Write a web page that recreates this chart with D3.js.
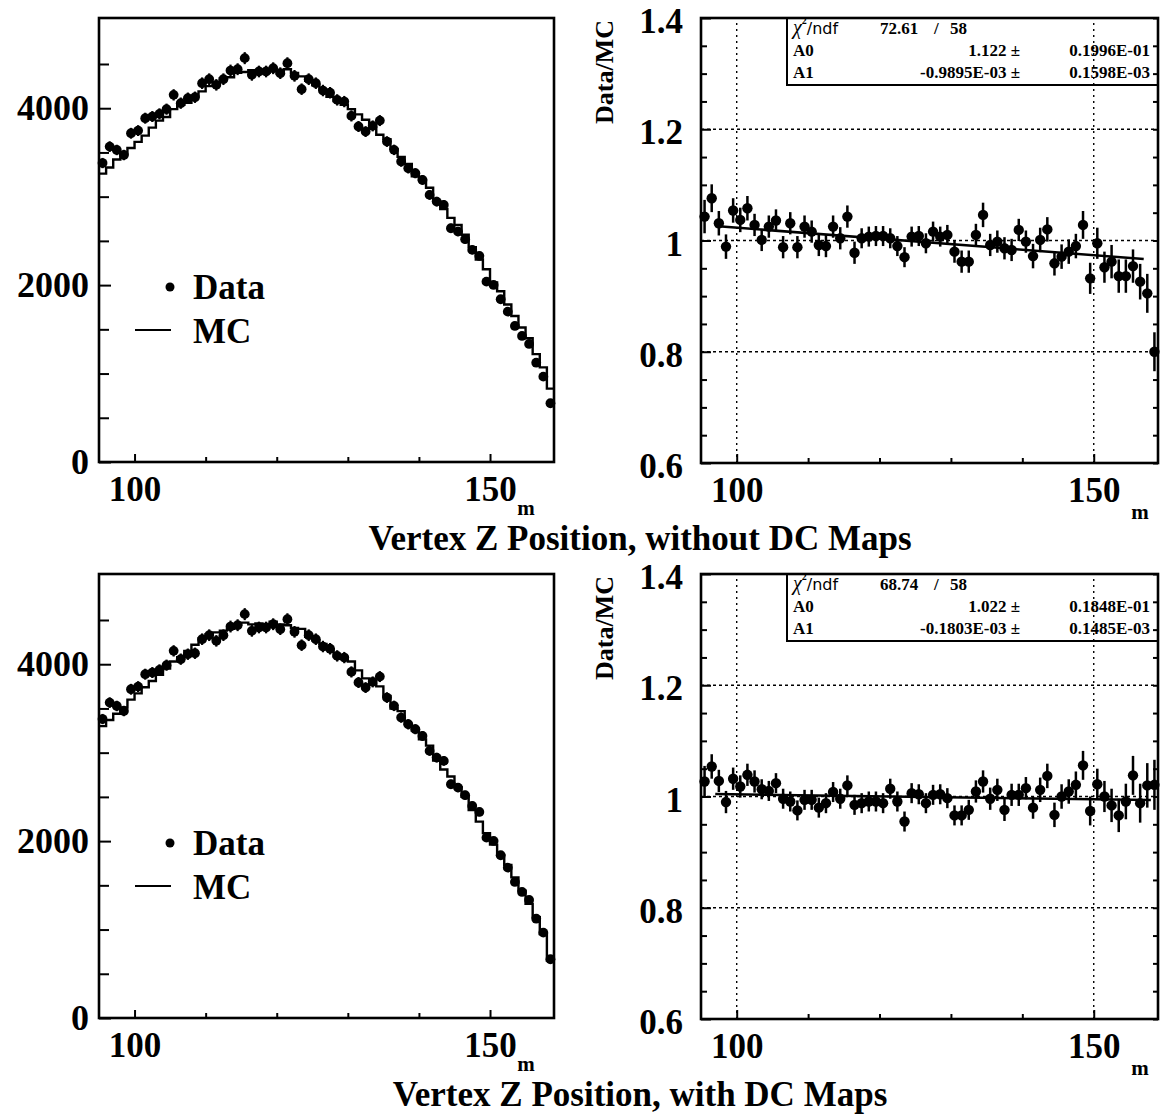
<!DOCTYPE html>
<html><head><meta charset="utf-8">
<script src="https://cdn.jsdelivr.net/npm/d3@7"></script>
<style>
html,body{margin:0;padding:0;background:#fff;}
svg{display:block;}
</style></head><body>
<svg id="c" width="1162" height="1114"></svg>
<script>
// ---------------- data ----------------
const binCenters = [95.5,96.5,97.5,98.5,99.5,100.5,101.5,102.5,103.5,104.5,105.5,106.5,107.5,108.5,109.5,110.5,111.5,112.5,113.5,114.5,115.5,116.5,117.5,118.5,119.5,120.5,121.5,122.5,123.5,124.5,125.5,126.5,127.5,128.5,129.5,130.5,131.5,132.5,133.5,134.5,135.5,136.5,137.5,138.5,139.5,140.5,141.5,142.5,143.5,144.5,145.5,146.5,147.5,148.5,149.5,150.5,151.5,152.5,153.5,154.5,155.5,156.5,157.5,158.5];

const dataCounts = [3380,3566,3528,3471,3717,3747,3887,3906,3936,3989,
  4151,4057,4113,4124,4283,4328,4264,4328,4426,4441,
  4566,4377,4415,4415,4452,4396,4509,4366,4215,4328,
  4283,4200,4175,4094,4075,3913,3793,3736,3800,3860,
  3623,3529,3397,3321,3265,3189,3020,2944,2907,2643,
  2605,2519,2398,2330,2039,2002,1840,1700,1538,1425,
  1335,1123,965,664];

const dataErr = [58,60,59,59,61,61,62,62,63,63,64,64,64,64,65,66,65,66,67,67,
  68,66,66,66,67,66,67,66,65,66,65,65,65,64,64,63,62,61,62,62,
  60,59,58,58,57,56,55,54,54,51,51,50,49,48,45,45,43,41,39,38,
  37,34,31,26];

const mcWithout = [3260,3330,3420,3480,3550,3620,3690,3780,3860,3900,
  3990,4040,4060,4140,4190,4250,4290,4340,4350,4400,
  4410,4430,4400,4400,4420,4390,4440,4400,4360,4310,
  4260,4210,4130,4080,4040,3990,3930,3870,3780,3700,
  3650,3540,3450,3370,3230,3190,3100,2950,2860,2760,
  2680,2570,2430,2290,2180,2030,1930,1780,1650,1520,
  1400,1220,1070,830];

const mcWith = [3300,3370,3440,3510,3600,3670,3740,3810,3880,3950,
  4030,4080,4150,4220,4290,4340,4360,4380,4400,4450,
  4470,4450,4460,4450,4480,4450,4440,4410,4400,4310,
  4270,4230,4170,4090,4080,4030,3930,3840,3770,3750,
  3640,3500,3470,3320,3250,3150,3080,2910,2810,2730,
  2610,2500,2350,2220,2090,1960,1840,1730,1590,1440,
  1290,1140,950,650];

const ratioWithout = [1.043,1.076,1.031,0.989,1.054,1.037,1.058,1.028,1.001,1.025,
  1.036,0.988,1.031,0.988,1.025,1.016,0.992,0.990,1.025,1.004,
  1.043,0.978,1.004,1.007,1.008,1.008,1.004,0.990,0.970,1.007,
  1.008,0.995,1.016,1.007,1.010,0.980,0.962,0.962,1.010,1.046,
  0.992,0.998,0.986,0.983,1.019,0.998,0.972,1.001,1.020,0.959,
  0.971,0.980,0.990,1.028,0.932,0.995,0.952,0.962,0.936,0.936,
  0.954,0.926,0.905,0.800];

const ratioErrWithout = [0.03,0.025,0.022,0.022,0.022,0.022,0.022,0.02,0.02,0.02,
  0.02,0.02,0.02,0.02,0.02,0.02,0.02,0.02,0.02,0.02,
  0.02,0.02,0.018,0.018,0.018,0.018,0.018,0.018,0.018,0.018,
  0.018,0.018,0.018,0.018,0.018,0.02,0.02,0.02,0.02,0.022,
  0.02,0.02,0.02,0.02,0.02,0.02,0.022,0.022,0.022,0.022,
  0.022,0.022,0.022,0.025,0.028,0.028,0.028,0.03,0.03,0.03,
  0.03,0.032,0.035,0.035];

const ratioWith = [1.027,1.054,1.028,0.990,1.032,1.018,1.039,1.027,1.013,1.010,
  1.024,0.996,0.991,0.975,0.994,0.994,0.980,0.988,1.008,0.996,
  1.020,0.985,0.988,0.991,0.991,0.988,1.014,0.991,0.955,1.006,
  1.004,0.988,1.003,1.004,0.997,0.966,0.966,0.976,1.009,1.027,
  0.996,1.012,0.976,1.003,1.003,1.015,0.980,1.012,1.037,0.967,
  1.000,1.009,1.021,1.056,0.974,1.022,1.000,0.984,0.966,0.991,
  1.038,0.988,1.020,1.021];

const ratioErrWith = [0.028,0.022,0.02,0.02,0.02,0.02,0.02,0.02,0.018,0.018,
  0.018,0.018,0.018,0.018,0.018,0.018,0.018,0.018,0.018,0.018,
  0.018,0.018,0.018,0.018,0.018,0.018,0.018,0.018,0.018,0.018,
  0.018,0.018,0.018,0.018,0.018,0.018,0.018,0.018,0.02,0.02,
  0.02,0.02,0.02,0.02,0.02,0.02,0.02,0.022,0.022,0.022,
  0.022,0.022,0.024,0.026,0.026,0.028,0.028,0.03,0.03,0.032,
  0.035,0.035,0.04,0.045];

const fitWithout = [1.122, -0.9895e-3];
const fitWith = [1.022, -0.1803e-3];
const fitRangeWithout = [97, 157];
const fitRangeWith = [97, 158];

const statsWithout = ["72.61", "58", "1.122", "0.1996E-01", "-0.9895E-03", "0.1598E-03"];
const statsWith = ["68.74", "58", "1.022", "0.1848E-01", "-0.1803E-03", "0.1485E-03"];

const titles = ["Vertex Z Position, without DC Maps", "Vertex Z Position, with DC Maps"];
const leftYTicks = [0, 2000, 4000];
const leftYMinor = [500,1000,1500,2500,3000,3500,4500];
const xMajor = [100, 150];
const xMinor = [110, 120, 130, 140];
const ratioTicks = [0.6, 0.8, 1.0, 1.2, 1.4];
const ratioMinor = [0.65,0.7,0.75,0.85,0.9,0.95,1.05,1.1,1.15,1.25,1.3,1.35];
const ratioGrid = [0.8, 1.0, 1.2];

// ---------------- drawing ----------------
const svg = d3.select("#c");
const SERIF = "'Liberation Serif','Times New Roman',serif";

function styleAxis(g, fs) {
  g.select(".domain").remove();
  g.selectAll("line").attr("stroke", "#000").attr("stroke-width", 2);
  g.selectAll("text").attr("font-family", SERIF).attr("font-weight", "bold")
    .attr("font-size", fs).attr("fill", "#000");
}

function drawRow(oy, mc, ratio, rErr, fit, fitRange, stats, title) {
  // ---------- left panel ----------
  const xL = d3.scaleLinear().domain([95, 159]).range([99, 554]);
  const yL = d3.scaleLinear().domain([0, 5020]).range([462 + oy, 18 + oy]);
  const gL = svg.append("g");

  gL.append("g").attr("transform", `translate(${xL.range()[0]},0)`)
    .call(d3.axisLeft(yL).tickValues(leftYTicks).tickSizeInner(-12).tickSizeOuter(0).tickPadding(10).tickFormat(d3.format("d")))
    .call(g => styleAxis(g, 36));
  gL.append("g").attr("transform", `translate(${xL.range()[0]},0)`)
    .call(d3.axisLeft(yL).tickValues(leftYMinor).tickSizeInner(-10).tickSizeOuter(0).tickFormat(""))
    .call(g => styleAxis(g, 36));
  gL.append("g").attr("transform", `translate(0,${yL.range()[0]})`)
    .call(d3.axisBottom(xL).tickValues(xMajor).tickSizeInner(-8).tickSizeOuter(0).tickPadding(14).tickFormat(d3.format("d")))
    .call(g => styleAxis(g, 35));
  gL.append("g").attr("transform", `translate(0,${yL.range()[0]})`)
    .call(d3.axisBottom(xL).tickValues(xMinor).tickSizeInner(-5).tickSizeOuter(0).tickFormat(""))
    .call(g => styleAxis(g, 35));

  // MC step histogram
  const stepPts = binCenters.map((c, i) => [c - 0.5, mc[i]]);
  stepPts.push([binCenters[binCenters.length - 1] + 0.5, mc[mc.length - 1]]);
  gL.append("path").datum(stepPts)
    .attr("d", d3.line().x(d => xL(d[0])).y(d => yL(d[1])).curve(d3.curveStepAfter))
    .attr("fill", "none").attr("stroke", "#000").attr("stroke-width", 2.4);

  // Data points
  const pts = gL.append("g");
  binCenters.forEach((c, i) => {
    pts.append("line").attr("x1", xL(c)).attr("x2", xL(c))
      .attr("y1", yL(dataCounts[i] - dataErr[i])).attr("y2", yL(dataCounts[i] + dataErr[i]))
      .attr("stroke", "#000").attr("stroke-width", 2.2);
  });
  pts.selectAll("circle").data(binCenters).join("circle")
    .attr("cx", d => xL(d)).attr("cy", (d, i) => yL(dataCounts[i])).attr("r", 4.9).attr("fill", "#000");

  // frame
  gL.append("rect").attr("x", xL.range()[0]).attr("y", yL.range()[1])
    .attr("width", xL.range()[1] - xL.range()[0]).attr("height", yL.range()[0] - yL.range()[1])
    .attr("fill", "none").attr("stroke", "#000").attr("stroke-width", 2.6);

  // legend
  gL.append("circle").attr("cx", 170).attr("cy", 287 + oy).attr("r", 4.5).attr("fill", "#000");
  gL.append("text").attr("x", 193).attr("y", 299 + oy).text("Data")
    .attr("font-family", SERIF).attr("font-weight", "bold").attr("font-size", 35);
  gL.append("line").attr("x1", 135).attr("x2", 171).attr("y1", 330 + oy).attr("y2", 330 + oy)
    .attr("stroke", "#000").attr("stroke-width", 2);
  gL.append("text").attr("x", 193).attr("y", 343 + oy).text("MC")
    .attr("font-family", SERIF).attr("font-weight", "bold").attr("font-size", 35);
  gL.append("text").attr("x", 526).attr("y", 515 + oy).attr("text-anchor", "middle").text("m")
    .attr("font-family", SERIF).attr("font-weight", "bold").attr("font-size", 21);

  // ---------- right panel ----------
  const xR = d3.scaleLinear().domain([95, 159]).range([701, 1158]);
  const yR = d3.scaleLinear().domain([0.6, 1.4]).range([463 + oy, 18 + oy]);
  const gR = svg.append("g");

  // grid
  gR.selectAll("line.hg").data(ratioGrid).join("line").attr("class", "hg")
    .attr("x1", xR.range()[0]).attr("x2", xR.range()[1]).attr("y1", d => yR(d)).attr("y2", d => yR(d))
    .attr("stroke", "#000").attr("stroke-width", 1.6).attr("stroke-dasharray", "3,3");
  gR.selectAll("line.vg").data(xMajor).join("line").attr("class", "vg")
    .attr("x1", d => xR(d)).attr("x2", d => xR(d)).attr("y1", yR.range()[0]).attr("y2", yR.range()[1])
    .attr("stroke", "#000").attr("stroke-width", 1.4).attr("stroke-dasharray", "2,4");

  gR.append("g").attr("transform", `translate(${xR.range()[0]},0)`)
    .call(d3.axisLeft(yR).tickValues(ratioTicks).tickSizeInner(-10).tickSizeOuter(0).tickPadding(18)
      .tickFormat(d => d === 1 ? "1" : d3.format(".1f")(d)))
    .call(g => styleAxis(g, 35))
    .call(g => g.selectAll("text").attr("dy", "0.42em"));
  gR.append("g").attr("transform", `translate(${xR.range()[0]},0)`)
    .call(d3.axisLeft(yR).tickValues(ratioMinor).tickSizeInner(-6).tickSizeOuter(0).tickFormat(""))
    .call(g => styleAxis(g, 35));
  gR.append("g").attr("transform", `translate(${xR.range()[1]},0)`)
    .call(d3.axisRight(yR).tickValues(ratioMinor.concat(ratioTicks)).tickSizeInner(-5).tickSizeOuter(0).tickFormat(""))
    .call(g => styleAxis(g, 35));
  gR.append("g").attr("transform", `translate(0,${yR.range()[0]})`)
    .call(d3.axisBottom(xR).tickValues(xMajor).tickSizeInner(-9).tickSizeOuter(0).tickPadding(14).tickFormat(d3.format("d")))
    .call(g => styleAxis(g, 35));
  gR.append("g").attr("transform", `translate(0,${yR.range()[0]})`)
    .call(d3.axisBottom(xR).tickValues(xMinor).tickSizeInner(-5).tickSizeOuter(0).tickFormat(""))
    .call(g => styleAxis(g, 35));

  // fit line
  gR.append("path").datum(fitRange)
    .attr("d", d3.line().x(d => xR(d)).y(d => yR(fit[0] + fit[1] * d)))
    .attr("stroke", "#000").attr("stroke-width", 2.5).attr("fill", "none");

  // ratio points
  const rp = gR.append("g");
  binCenters.forEach((c, i) => {
    rp.append("line").attr("x1", xR(c)).attr("x2", xR(c))
      .attr("y1", yR(ratio[i] - rErr[i])).attr("y2", yR(ratio[i] + rErr[i]))
      .attr("stroke", "#000").attr("stroke-width", 2.5);
  });
  rp.selectAll("circle").data(binCenters).join("circle")
    .attr("cx", d => xR(d)).attr("cy", (d, i) => yR(ratio[i])).attr("r", 5.2).attr("fill", "#000");

  // stats box
  const bx0 = 787, by1 = 85 + oy, bx1 = xR.range()[1], by0 = yR.range()[1];
  gR.append("path").attr("d", `M${bx0},${by0}V${by1}H${bx1}`)
    .attr("fill", "none").attr("stroke", "#000").attr("stroke-width", 2);
  const st = gR.append("g").attr("font-family", SERIF).attr("font-weight", "bold").attr("font-size", 17);
  const r1 = 34 + oy, r2 = 56 + oy, r3 = 78 + oy;
  const chi = st.append("text").attr("x", 793).attr("y", r1);
  chi.append("tspan").attr("font-style", "italic").attr("font-weight", "normal").attr("font-size", 20).text("χ");
  chi.append("tspan").attr("font-size", 10).attr("dy", -10).text("2");
  chi.append("tspan").attr("dy", 10).attr("font-family", "'DejaVu Sans',sans-serif").attr("font-weight", "normal").attr("font-size", 16).text("/ndf");
  st.append("text").attr("x", 880).attr("y", r1).text(stats[0]);
  st.append("text").attr("x", 934).attr("y", r1).text("/");
  st.append("text").attr("x", 950).attr("y", r1).text(stats[1]);
  st.append("text").attr("x", 793).attr("y", r2).text("A0");
  st.append("text").attr("x", 1020).attr("y", r2).attr("text-anchor", "end").text(stats[2] + " ±");
  st.append("text").attr("x", 1150).attr("y", r2).attr("text-anchor", "end").text(stats[3]);
  st.append("text").attr("x", 793).attr("y", r3).text("A1");
  st.append("text").attr("x", 1020).attr("y", r3).attr("text-anchor", "end").text(stats[4] + " ±");
  st.append("text").attr("x", 1150).attr("y", r3).attr("text-anchor", "end").text(stats[5]);

  // frame
  gR.append("rect").attr("x", xR.range()[0]).attr("y", yR.range()[1])
    .attr("width", xR.range()[1] - xR.range()[0]).attr("height", yR.range()[0] - yR.range()[1])
    .attr("fill", "none").attr("stroke", "#000").attr("stroke-width", 2.6);

  // y label
  gR.append("text").attr("transform", `translate(613,${72 + oy}) rotate(-90)`)
    .attr("text-anchor", "middle").text("Data/MC")
    .attr("font-family", SERIF).attr("font-weight", "bold").attr("font-size", 26);
  gR.append("text").attr("x", 1140).attr("y", 519 + oy).attr("text-anchor", "middle").text("m")
    .attr("font-family", SERIF).attr("font-weight", "bold").attr("font-size", 21);

  // title
  svg.append("text").attr("x", 640).attr("y", 550 + oy).attr("text-anchor", "middle").text(title)
    .attr("font-family", SERIF).attr("font-weight", "bold").attr("font-size", 35);
}

drawRow(0, mcWithout, ratioWithout, ratioErrWithout, fitWithout, fitRangeWithout, statsWithout, titles[0]);
drawRow(556, mcWith, ratioWith, ratioErrWith, fitWith, fitRangeWith, statsWith, titles[1]);
</script>
</body></html>
